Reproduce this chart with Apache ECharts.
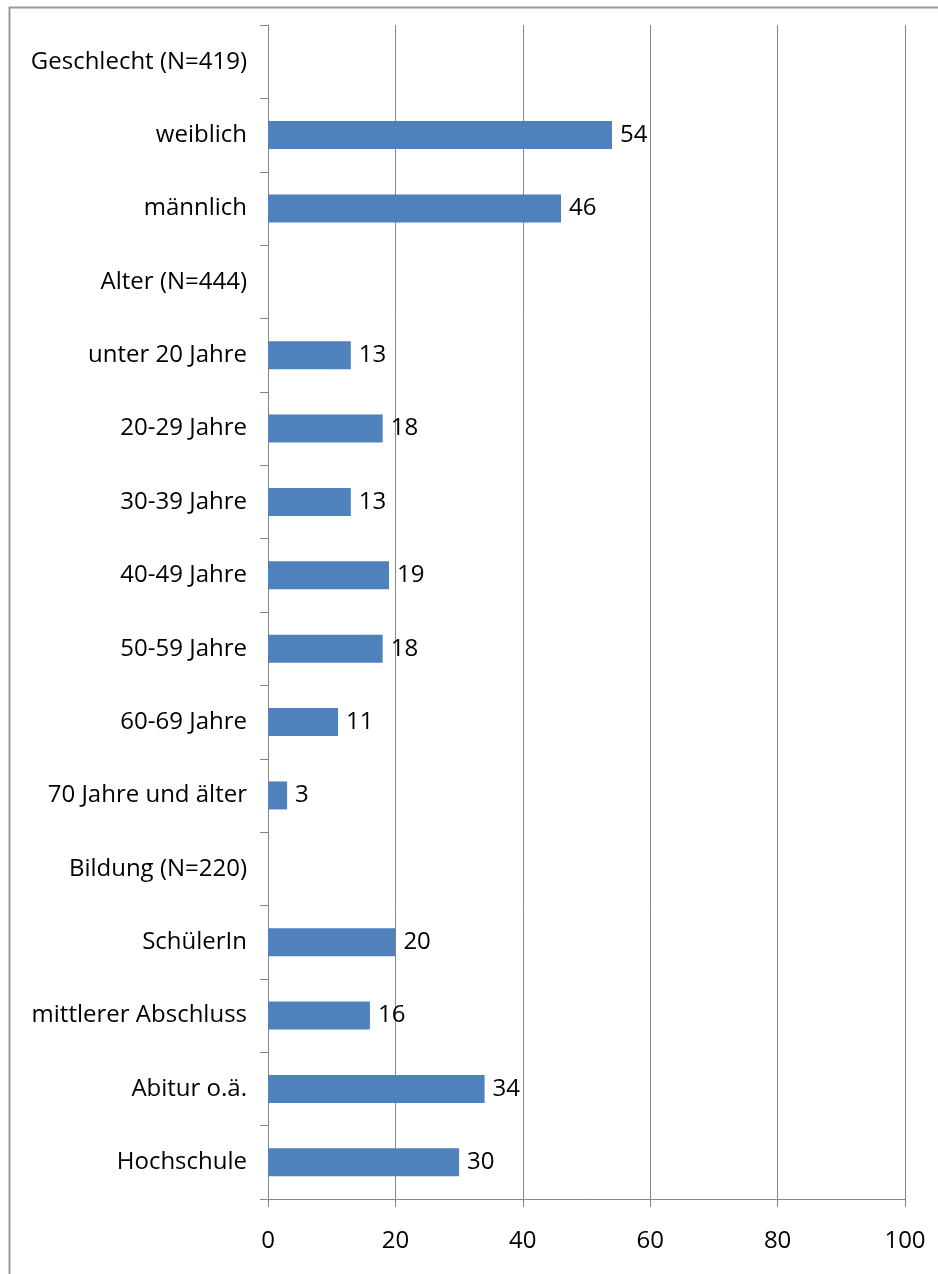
<!DOCTYPE html>
<html>
<head>
<meta charset="utf-8">
<script src="https://cdn.jsdelivr.net/npm/echarts@6/dist/echarts.min.js"></script>
<style>
  html, body { margin: 0; padding: 0; background: #ffffff; }
  #chart { width: 938px; height: 1274px; }
</style>
</head>
<body>
<div id="chart"></div>
<script>
// Categories from top to bottom; null marks a group heading row without a bar
const categories = [
  'Geschlecht (N=419)', 'weiblich', 'männlich',
  'Alter (N=444)', 'unter 20 Jahre', '20-29 Jahre', '30-39 Jahre',
  '40-49 Jahre', '50-59 Jahre', '60-69 Jahre', '70 Jahre und älter',
  'Bildung (N=220)', 'SchülerIn', 'mittlerer Abschluss', 'Abitur o.ä.', 'Hochschule'
];
const values = [
  null, 54, 46,
  null, 13, 18, 13, 19, 18, 11, 3,
  null, 20, 16, 34, 30
];
const xTicks = [0, 20, 40, 60, 80, 100];

const FONT = '"Open Sans", Lato, sans-serif';
const FS = 24;
const GRAY = '#868686';

const chart = echarts.init(document.getElementById('chart'), null, { renderer: 'canvas' });
chart.setOption({
  backgroundColor: '#ffffff',
  animation: false,
  graphic: [{
    type: 'rect',
    shape: { x: 9.5, y: 7.5, width: 1000, height: 1400 },
    style: { fill: 'none', stroke: '#9a9a9a', lineWidth: 2 },
    silent: true
  }],
  grid: { left: 268, right: 33, top: 25, bottom: 75, containLabel: false },
  xAxis: {
    type: 'value',
    min: xTicks[0],
    max: xTicks[xTicks.length - 1],
    interval: 20,
    axisLine: { show: true, lineStyle: { color: GRAY, width: 1 } },
    axisTick: { show: true, length: 8, lineStyle: { color: GRAY } },
    splitLine: { show: true, lineStyle: { color: GRAY, width: 1 } },
    axisLabel: { color: '#000', fontFamily: FONT, fontSize: FS, margin: 30 }
  },
  yAxis: {
    type: 'category',
    inverse: true,
    data: categories,
    axisLine: { show: true, lineStyle: { color: GRAY, width: 1 } },
    axisTick: { show: true, length: 8, alignWithLabel: false, lineStyle: { color: GRAY } },
    axisLabel: { color: '#000', fontFamily: FONT, fontSize: FS, margin: 21, interval: 0, padding: [6, 0, 0, 0] }
  },
  series: [{
    type: 'bar',
    data: values,
    barWidth: 28,
    itemStyle: { color: '#4F81BD' },
    label: {
      show: true,
      position: 'right',
      distance: 8,
      color: '#000',
      fontFamily: FONT,
      fontSize: FS,
      padding: [6, 0, 0, 0]
    }
  }]
});
</script>
</body>
</html>
